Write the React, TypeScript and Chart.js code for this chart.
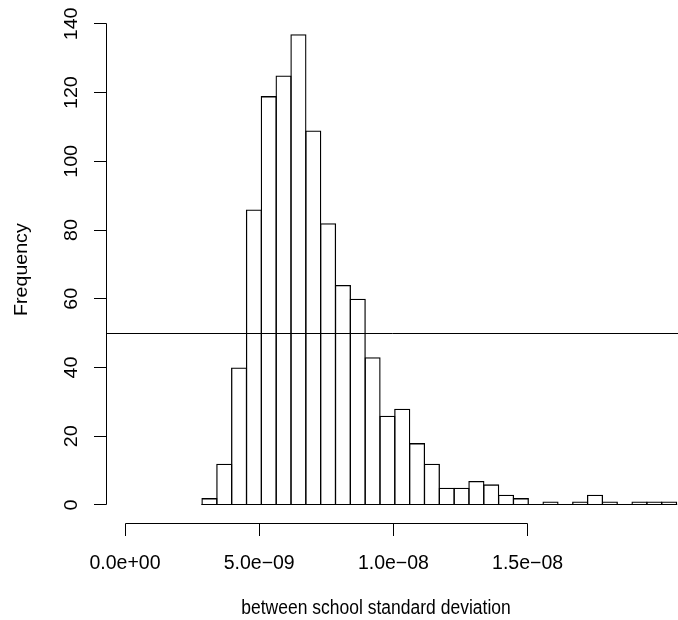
import React, { useEffect, useRef } from "react";
import { Chart, registerables } from "chart.js";

Chart.register(...registerables);

// ---- data ----
const BIN_START = 2.87e-9;
const BIN_WIDTH = 5.525e-10;
const COUNTS = [
  2, 12, 40, 86, 119, 125, 137, 109, 82, 64, 60, 43, 26, 28, 18, 12, 5, 5, 7, 6,
  3, 2, 0, 1, 0, 1, 3, 1, 0, 1, 1, 1,
];
const X_TICKS = [0, 5e-9, 1e-8, 1.5e-8];
const X_TICK_LABELS = ["0.0e+00", "5.0e\u221209", "1.0e\u221208", "1.5e\u221208"];
const Y_TICKS = [0, 20, 40, 60, 80, 100, 120, 140];
const Y_TICK_LABELS = ["0", "20", "40", "60", "80", "100", "120", "140"];
const REF_LINE = 50;
const X_TITLE = "between school standard deviation";
const Y_TITLE = "Frequency";

// ---- scale bounds ----
const X_MIN = -6.893e-10;
const X_MAX = 2.05663e-8;
const Y_TOP = Math.max(...COUNTS);
const Y_MIN = -0.04 * Y_TOP;
const Y_MAX = 1.04 * Y_TOP;

const FAMILY = '"Liberation Sans", Arial, Helvetica, sans-serif';
const FONT = "17.5px " + FAMILY;
const XTICK_FONT = "19.5px " + FAMILY;
const TEXT_STRETCH = 1.12;
const BAR_BORDER = 1.3;

const crisp = (v: number) => Math.floor(v + 0.01) + 0.5;

function drawText(
  ctx: CanvasRenderingContext2D,
  text: string,
  x: number,
  y: number,
  rotated: boolean,
  stretch: number
) {
  ctx.save();
  ctx.translate(x, y);
  if (rotated) {
    ctx.rotate(-Math.PI / 2);
    ctx.scale(stretch, 1);
  } else {
    ctx.scale(1, stretch);
  }
  ctx.textAlign = "center";
  ctx.textBaseline = "alphabetic";
  ctx.fillText(text, 0, 0);
  ctx.restore();
}

const rAxesPlugin = {
  id: "rAxes",
  afterDatasetsDraw(chart: any) {
    const { ctx, chartArea } = chart;
    const xs = chart.scales.x;
    const ys = chart.scales.y;
    ctx.save();
    ctx.strokeStyle = "#000";
    ctx.fillStyle = "#000";
    ctx.lineWidth = 1;

    // baseline of histogram (covers zero-count bins)
    const y0 = crisp(ys.getPixelForValue(0));
    const xa = xs.getPixelForValue(BIN_START);
    const xb = xs.getPixelForValue(BIN_START + COUNTS.length * BIN_WIDTH);
    ctx.beginPath();
    ctx.moveTo(xa - 0.6, y0);
    ctx.lineTo(xb + 0.6, y0);
    ctx.stroke();

    // reference line (abline h=50)
    const yr = crisp(ys.getPixelForValue(REF_LINE));
    ctx.beginPath();
    ctx.moveTo(chartArea.left, yr);
    ctx.lineTo(chart.width, yr);
    ctx.stroke();

    // x axis
    const axY = crisp(chartArea.bottom - 0.5);
    const tickLen = 12.5;
    const xp = X_TICKS.map((v) => crisp(xs.getPixelForValue(v)));
    ctx.beginPath();
    ctx.moveTo(xp[0], axY);
    ctx.lineTo(xp[xp.length - 1], axY);
    xp.forEach((p) => {
      ctx.moveTo(p, axY);
      ctx.lineTo(p, axY + tickLen);
    });
    ctx.stroke();

    // y axis
    const axX = crisp(chartArea.left);
    const yp = Y_TICKS.map((v) => crisp(ys.getPixelForValue(v)));
    ctx.beginPath();
    ctx.moveTo(axX, yp[0]);
    ctx.lineTo(axX, yp[yp.length - 1]);
    yp.forEach((p) => {
      ctx.moveTo(axX, p);
      ctx.lineTo(axX - tickLen, p);
    });
    ctx.stroke();

    // labels
    ctx.font = XTICK_FONT;
    X_TICKS.forEach((v, i) => {
      drawText(ctx, X_TICK_LABELS[i], xs.getPixelForValue(v), 568.5, false, 1);
    });
    ctx.font = FONT;
    Y_TICKS.forEach((v, i) => {
      drawText(ctx, Y_TICK_LABELS[i], 76.5, ys.getPixelForValue(v), true, TEXT_STRETCH);
    });
    drawText(ctx, X_TITLE, 376, 614, false, TEXT_STRETCH);
    drawText(ctx, Y_TITLE, 26.5, (chartArea.top + chartArea.bottom) / 2, true, TEXT_STRETCH);
    ctx.restore();
  },
};

export default function App() {
  const ref = useRef<HTMLCanvasElement | null>(null);

  useEffect(() => {
    if (!ref.current) return;
    const areaWidth = 678 - 106.5 - 1;
    const binPx = (BIN_WIDTH * areaWidth) / (X_MAX - X_MIN);
    const barPct = (binPx + BAR_BORDER) / binPx;

    const chart = new Chart(ref.current, {
      type: "bar",
      data: {
        datasets: [
          {
            type: "bar",
            data: COUNTS.map((c, i) => ({ x: BIN_START + (i + 0.5) * BIN_WIDTH, y: c })),
            backgroundColor: "rgba(0,0,0,0)",
            borderColor: "#000",
            borderWidth: BAR_BORDER,
            borderSkipped: "start",
            barPercentage: barPct,
            categoryPercentage: 1,
            clip: false,
          } as any,
        ],
      },
      options: {
        animation: false,
        responsive: false,
        devicePixelRatio: 1,
        layout: { padding: { left: 106.5, right: 1, top: 15.4, bottom: 96.2 } },
        plugins: { legend: { display: false }, tooltip: { enabled: false } },
        scales: {
          x: {
            type: "linear",
            display: false,
            offset: false,
            grace: 0,
            min: X_MIN,
            max: X_MAX,
            afterBuildTicks: (s: any) => {
              s.ticks = X_TICKS.map((v) => ({ value: v }));
            },
          },
          y: {
            type: "linear",
            display: false,
            offset: false,
            min: Y_MIN,
            max: Y_MAX,
          },
        },
      } as any,
      plugins: [rAxesPlugin],
    });
    return () => chart.destroy();
  }, []);

  return (
    <div style={{ position: "fixed", left: 0, top: 0, width: 678, height: 620, background: "#fff" }}>
      <canvas ref={ref} width={678} height={620} style={{ display: "block", width: 678, height: 620 }} />
    </div>
  );
}
